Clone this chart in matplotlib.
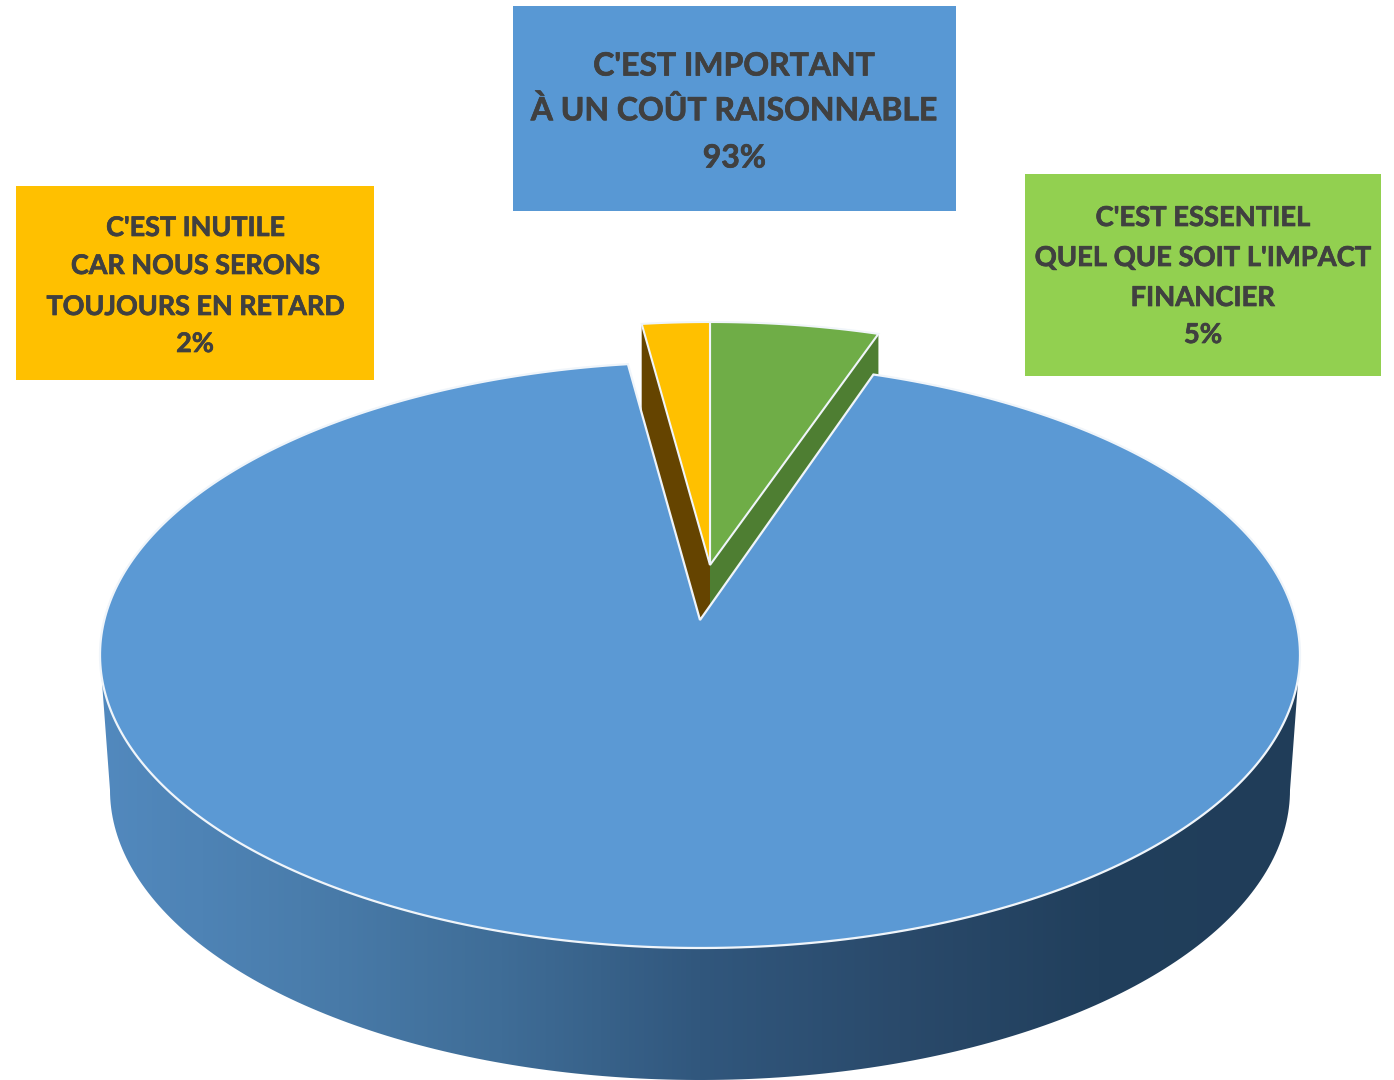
import numpy as np
import matplotlib
matplotlib.use('Agg')
import matplotlib.pyplot as plt
import matplotlib.patheffects as pe
from matplotlib.colors import LinearSegmentedColormap
from matplotlib.patches import Polygon, Rectangle

# Valeurs du graphique
valeurs = [93, 5, 2]  # important, essentiel, inutile
couleurs = ['#5B99D4', '#6FAD47', '#FFC000']
couleurs_cote = ['#1F3C58', '#4E7E32', '#654400']

# Libellés (texte ligne par ligne)
lignes_important = ["C'EST IMPORTANT", "À UN COÛT RAISONNABLE", "93%"]
lignes_essentiel = ["C'EST ESSENTIEL", "QUEL QUE SOIT L'IMPACT", "FINANCIER", "5%"]
lignes_inutile = ["C'EST INUTILE", "CAR NOUS SERONS", "TOUJOURS EN RETARD", "2%"]

W, H = 1394, 1080
TEXTE = '#404040'

fig = plt.figure(figsize=(W / 100, H / 100), dpi=100)
ax = fig.add_axes([0, 0, 1, 1])
ax.set_xlim(0, W)
ax.set_ylim(H, 0)
ax.axis('off')


def ellipse(cx, cy, a, b, deg):
    # angle 0 = haut, sens horaire
    t = np.radians(deg)
    return np.column_stack([cx + a * np.sin(t), cy - b * np.cos(t)])


# Géométrie du camembert
cx, cy, a, b = 700, 655, 600, 293
cx_bas, cy_bas, a_bas, b_bas = 700, 790, 590, 290
sommet = (700, 620)
sommet_ext = (710, 565)
a_ext, b_ext = 545, 243
# la perspective resserre un peu l'encoche du bloc bleu
jeu_droite, jeu_gauche = 1.2, 0.3

angle_essentiel = valeurs[1] / sum(valeurs) * 360
angle_inutile = valeurs[2] / sum(valeurs) * 360

# Paroi du bloc bleu, avec dégradé
haut = ellipse(cx, cy, a, b, np.linspace(270, 90, 200))
bas = ellipse(cx_bas, cy_bas, a_bas, b_bas, np.linspace(90, 270, 200))
paroi = Polygon(np.vstack([haut, bas]), closed=True, fc='none', ec='none')
ax.add_patch(paroi)
cmap = LinearSegmentedColormap.from_list('paroi', ['#5289BE', '#4A7DAC', '#3F6D97', '#31577D', '#2A4A6B', '#213F5C', '#203D59'])
img = ax.imshow(np.linspace(0, 1, 512).reshape(1, -1), cmap=cmap, extent=(100, 1300, H, 0), aspect='auto', zorder=1)
img.set_clip_path(paroi)
ax.set_xlim(0, W)
ax.set_ylim(H, 0)

# Côtés des parts détachées (le bas passe sous le bloc bleu)
bord_e = ellipse(sommet_ext[0], sommet_ext[1], a_ext, b_ext, [angle_essentiel])[0]
bord_i = ellipse(sommet_ext[0], sommet_ext[1], a_ext, b_ext, [-angle_inutile])[0]
ax.add_patch(Polygon([bord_i, bord_i + (0, 120), (700, 640), (710, 640), sommet_ext],
                     fc=couleurs_cote[2], ec='none', zorder=2))
ax.add_patch(Polygon([bord_e, bord_e + (0, 70), (710, 640), sommet_ext],
                     fc=couleurs_cote[1], ec='none', zorder=2))

# Face supérieure du bloc bleu
arc = ellipse(cx, cy, a, b, np.linspace(angle_essentiel - jeu_droite, 360 - angle_inutile + jeu_gauche, 400))
ax.add_patch(Polygon(np.vstack([arc, sommet]), closed=True, fc=couleurs[0], ec='#F0F5FA', lw=1.6, zorder=3))

# Parts détachées
arc_e = ellipse(sommet_ext[0], sommet_ext[1], a_ext, b_ext, np.linspace(0, angle_essentiel, 30))
ax.add_patch(Polygon(np.vstack([arc_e, sommet_ext]), closed=True, fc=couleurs[1], ec='#F0F5FA', lw=1.5, zorder=4))
arc_i = ellipse(sommet_ext[0], sommet_ext[1], a_ext, b_ext, np.linspace(-angle_inutile, 0, 30))
ax.add_patch(Polygon(np.vstack([arc_i, sommet_ext]), closed=True, fc=couleurs[2], ec='#F0F5FA', lw=1.5, zorder=4))


# Étiquettes
def etiquette(x0, y0, x1, y1, couleur, lignes, ys, taille):
    ax.add_patch(Rectangle((x0, y0), x1 - x0, y1 - y0, fc=couleur, ec='none', zorder=5))
    for texte, y in zip(lignes, ys):
        t = ax.text((x0 + x1) / 2, y, texte, ha='center', va='center', color=TEXTE,
                    fontsize=taille, fontweight='bold', family='Lato', zorder=6)
        t.set_path_effects([pe.withStroke(linewidth=0.5, foreground=TEXTE)])


etiquette(513, 6, 956, 211, '#5898D4', lignes_important, [66, 110, 158], 23)
etiquette(1025, 174, 1381, 376, '#92D050', lignes_essentiel, [218, 258, 298, 335], 19.7)
etiquette(16, 186, 374, 380, '#FFC000', lignes_inutile, [228, 266, 307, 344], 19.4)

plt.savefig('out.png', dpi=100)
